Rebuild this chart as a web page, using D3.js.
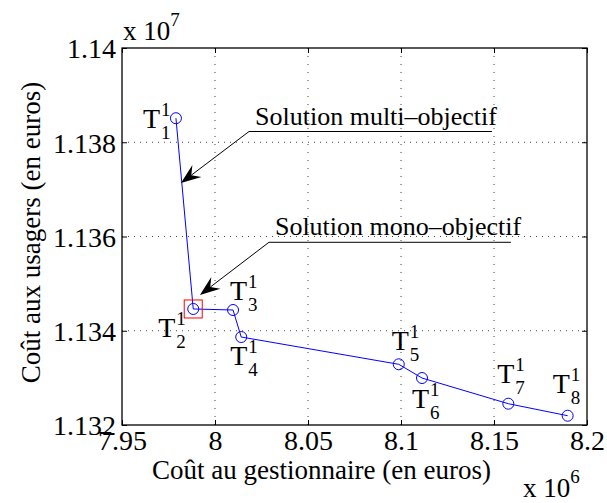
<!DOCTYPE html>
<html>
<head>
<meta charset="utf-8">
<script src="https://cdn.jsdelivr.net/npm/d3@7"></script>
<style>
  html, body { margin: 0; padding: 0; background: #fff; }
</style>
</head>
<body>
<svg id="chart" width="607" height="503"></svg>
<script>
// ---- data (x in units of 10^6 euros, y in units of 10^7 euros) ----
const pointIndex = ["1", "2", "3", "4", "5", "6", "7", "8"];
const xValues = [7.979, 7.9883, 8.0097, 8.0141, 8.0988, 8.1113, 8.1577, 8.1896];
const yValues = [1.13851, 1.134462, 1.13444, 1.133867, 1.133288, 1.132997, 1.132452, 1.132197];
const xTicks = [7.95, 8, 8.05, 8.1, 8.15, 8.2];
const yTicks = [1.132, 1.134, 1.136, 1.138, 1.14];
const xTickLabels = ["7.95", "8", "8.05", "8.1", "8.15", "8.2"];
const yTickLabels = ["1.132", "1.134", "1.136", "1.138", "1.14"];
const xDomain = [7.95, 8.2];
const yDomain = [1.132, 1.14];
const highlightedIndex = 1; // T2 (mono-objective solution)
const annotationTexts = ["Solution multi\u2013objectif", "Solution mono\u2013objectif"];
// annotation geometry in data units: tail (start of underline), underline end x, arrow tip
const annTailX = [8.0183, 8.029];
const annTailY = [1.138228, 1.135877];
const annEndX = [8.1489, 8.1591];
const annTipX = [7.9817, 7.9919];
const annTipY = [1.137135, 1.134759];

// ---- layout ----
const FONT = '"Liberation Serif", "Times New Roman", Times, serif';
const m = { left: 122, right: 587, top: 48, bottom: 425 };
const svg = d3.select("#chart").attr("font-family", FONT);
const x = d3.scaleLinear().domain(xDomain).range([m.left, m.right]);
const y = d3.scaleLinear().domain(yDomain).range([m.bottom, m.top]);
const W = m.right - m.left, H = m.bottom - m.top;

function txt(sel) { return sel.attr("font-family", FONT).style("font-family", FONT).attr("fill", "#000"); }

// grid
const grid = svg.append("g");
grid.selectAll("line.gx").data(xTicks.slice(1, -1)).enter().append("line")
  .attr("x1", d => x(d)).attr("x2", d => x(d)).attr("y1", m.top).attr("y2", m.bottom)
  .attr("stroke", "#444").attr("stroke-width", 1).attr("stroke-dasharray", "1,7");
grid.selectAll("line.gy").data(yTicks.slice(1, -1)).enter().append("line")
  .attr("y1", d => y(d)).attr("y2", d => y(d)).attr("x1", m.left).attr("x2", m.right)
  .attr("stroke", "#444").attr("stroke-width", 1).attr("stroke-dasharray", "1,5");

// axes
const fs = 28;
const xAxis = d3.axisBottom(x).tickValues(xTicks).tickFormat((d, i) => xTickLabels[i]).tickSizeInner(-5).tickSizeOuter(0).tickPadding(5);
const yAxis = d3.axisLeft(y).tickValues(yTicks).tickFormat((d, i) => yTickLabels[i]).tickSizeInner(-5).tickSizeOuter(0).tickPadding(6);
const gx = svg.append("g").attr("transform", `translate(0,${m.bottom})`).call(xAxis);
const gy = svg.append("g").attr("transform", `translate(${m.left},0)`).call(yAxis);
const gxTop = svg.append("g").attr("transform", `translate(0,${m.top})`).call(d3.axisTop(x).tickValues(xTicks).tickFormat("").tickSizeInner(-5).tickSizeOuter(0));
const gyRight = svg.append("g").attr("transform", `translate(${m.right},0)`).call(d3.axisRight(y).tickValues(yTicks).tickFormat("").tickSizeInner(-5).tickSizeOuter(0));
[gx, gy, gxTop, gyRight].forEach(g => {
  g.attr("font-family", FONT);
  g.select(".domain").remove();
  g.selectAll("line").attr("stroke", "#000");
  txt(g.selectAll("text")).style("font-size", fs + "px");
});
gy.selectAll("text").attr("dy", "0.35em");
// box
svg.append("rect").attr("x", m.left).attr("y", m.top).attr("width", W).attr("height", H)
  .attr("fill", "none").attr("stroke", "#000").attr("stroke-width", 1.3);

// axis labels
txt(svg.append("text")).attr("x", (m.left + m.right) / 2 - 33).attr("y", 479)
  .attr("text-anchor", "middle").style("font-size", "27px").text("Co\u00fbt au gestionnaire (en euros)");
txt(svg.append("text")).attr("transform", `translate(40,${(m.top + m.bottom) / 2 - 4}) rotate(-90)`)
  .attr("text-anchor", "middle").style("font-size", "27px").text("Co\u00fbt aux usagers (en euros)");

// exponent labels
const e1 = txt(svg.append("text")).attr("x", m.left + 1).attr("y", 40).style("font-size", "27px");
e1.append("tspan").text("x 10");
e1.append("tspan").attr("dy", -14).style("font-size", "19px").text("7");
const e2 = txt(svg.append("text")).attr("x", 523).attr("y", 497).style("font-size", "27px");
e2.append("tspan").text("x 10");
e2.append("tspan").attr("dy", -14).style("font-size", "19px").text("6");

// series line + markers
const pts = xValues.map((v, i) => [v, yValues[i]]);
svg.append("path").datum(pts)
  .attr("d", d3.line().x(d => x(d[0])).y(d => y(d[1])))
  .attr("fill", "none").attr("stroke", "#0000ff").attr("stroke-width", 1);
svg.selectAll("circle.pt").data(pts).enter().append("circle")
  .attr("cx", d => x(d[0])).attr("cy", d => y(d[1])).attr("r", 5.5)
  .attr("fill", "none").attr("stroke", "#0000ff").attr("stroke-width", 1);

// highlight square
svg.append("rect")
  .attr("x", x(xValues[highlightedIndex]) - 9).attr("y", y(yValues[highlightedIndex]) - 9)
  .attr("width", 18).attr("height", 18)
  .attr("fill", "none").attr("stroke", "#ff0000").attr("stroke-width", 1);

// point labels T^1_k (offsets in px: T left, T baseline relative to point)
const labelOffsets = [[-33, 10], [-35, 28], [-3, -10], [-11, 28], [-7, -14], [-10, 30], [-11, -21], [-15, -23]];
pts.forEach((p, i) => {
  const px = x(p[0]) + labelOffsets[i][0], py = y(p[1]) + labelOffsets[i][1];
  txt(svg.append("text")).attr("x", px).attr("y", py).style("font-size", "28px").text("T");
  txt(svg.append("text")).attr("x", px + 18).attr("y", py - 12).style("font-size", "19px").text("1");
  txt(svg.append("text")).attr("x", px + 18).attr("y", py + 11).style("font-size", "19px").text(pointIndex[i]);
});

// annotations
annotationTexts.forEach((t, i) => {
  const tx = x(annTailX[i]), ty = y(annTailY[i]);
  const ex = x(annEndX[i]);
  const hx = x(annTipX[i]), hy = y(annTipY[i]);
  svg.append("line").attr("x1", tx).attr("y1", ty).attr("x2", ex).attr("y2", ty)
    .attr("stroke", "#000").attr("stroke-width", 1);
  txt(svg.append("text")).attr("x", tx + 6).attr("y", ty - 7).style("font-size", "26px").text(t);
  const ang = Math.atan2(hy - ty, hx - tx);
  const L = 20, Wd = 7.5, notch = 13;
  const bx = hx - notch * Math.cos(ang), by = hy - notch * Math.sin(ang);
  svg.append("line").attr("x1", tx).attr("y1", ty).attr("x2", bx).attr("y2", by)
    .attr("stroke", "#000").attr("stroke-width", 1);
  const cx = hx - L * Math.cos(ang), cy = hy - L * Math.sin(ang);
  const nx = -Math.sin(ang), ny = Math.cos(ang);
  const head = [[hx, hy], [cx + nx * Wd, cy + ny * Wd], [bx, by], [cx - nx * Wd, cy - ny * Wd]];
  svg.append("path").attr("d", "M" + head.map(p => p.join(",")).join("L") + "Z").attr("fill", "#000");
});
</script>
</body>
</html>
